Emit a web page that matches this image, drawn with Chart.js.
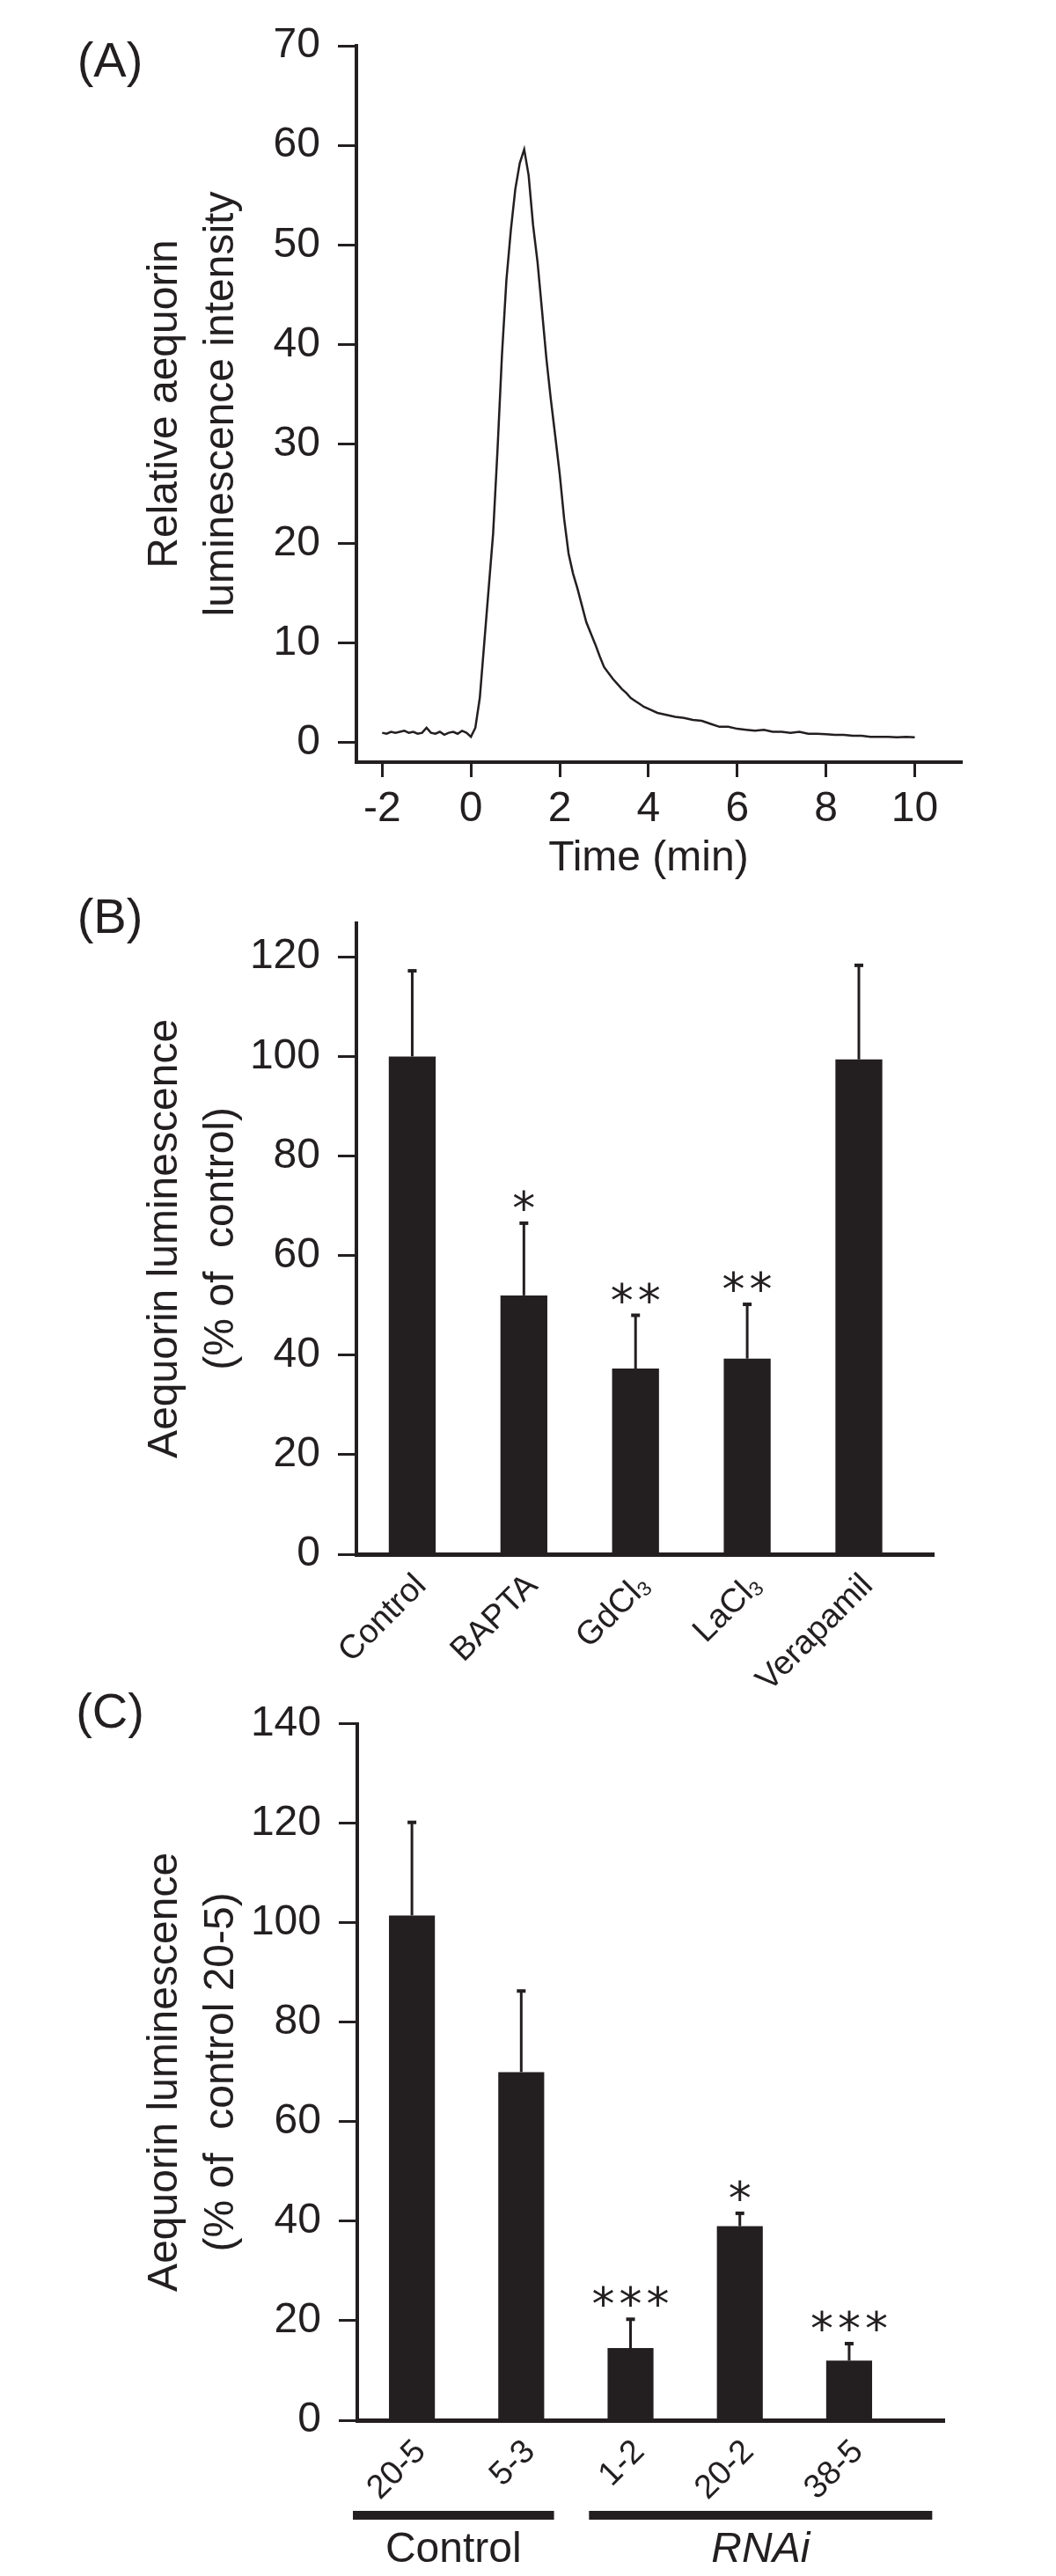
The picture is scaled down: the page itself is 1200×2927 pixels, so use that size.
<!DOCTYPE html>
<html>
<head>
<meta charset="utf-8">
<script src="https://cdn.jsdelivr.net/npm/chart.js@4.4.1/dist/chart.umd.min.js"></script>
<style>
  html, body { margin: 0; padding: 0; background: #fff; }
  body { width: 1200px; height: 2927px; position: relative; overflow: hidden; }
  canvas { position: absolute; left: 0; }
</style>
</head>
<body>
<canvas id="chartA" width="1200" height="1000" style="top:0px"></canvas>
<canvas id="chartB" width="1200" height="960" style="top:1000px"></canvas>
<canvas id="chartC" width="1200" height="1017" style="top:1910px"></canvas>
<script>
const ink = '#231f20';
const fontFamily = '"Liberation Sans", Arial, Helvetica, sans-serif';

// (A) aequorin trace, time in min
const timeMin = [
  -2.0, -1.9, -1.8, -1.7, -1.6, -1.5, -1.4, -1.3, -1.2, -1.1,
  -1.0, -0.9, -0.8, -0.7, -0.6, -0.5, -0.4, -0.3, -0.2, -0.1,
  0.0, 0.1, 0.2, 0.3, 0.4, 0.5, 0.6, 0.7, 0.8, 0.9,
  1.0, 1.1, 1.2, 1.3, 1.4, 1.5, 1.6, 1.7, 1.8, 1.9,
  2.0, 2.1, 2.2, 2.3, 2.4, 2.5, 2.6, 2.7, 2.8, 2.9,
  3.0, 3.1, 3.2, 3.3, 3.4, 3.5, 3.6, 3.7, 3.8, 3.9,
  4.0, 4.2, 4.4, 4.6, 4.8, 5.0, 5.2, 5.4, 5.6, 5.8,
  6.0, 6.2, 6.4, 6.6, 6.8, 7.0, 7.2, 7.4, 7.6, 7.8,
  8.0, 8.2, 8.4, 8.6, 8.8, 9.0, 9.2, 9.4, 9.6, 9.8, 10.0
];
const intensity = [
  1.0, 0.9, 1.1, 1.0, 1.1, 1.2, 1.0, 1.1, 0.9, 1.0,
  1.5, 1.0, 0.9, 1.1, 0.8, 1.0, 1.1, 0.9, 1.2, 1.0,
  0.6, 1.5, 4.5, 10.0, 15.5, 21.0, 29.5, 39.0, 46.5, 51.5,
  55.6, 58.2, 59.6, 57.0, 52.0, 48.3, 43.5, 38.6, 34.5, 30.8,
  27.0, 22.5, 19.0, 17.0, 15.5, 13.8, 12.1, 11.0, 9.9, 8.7,
  7.6, 7.0, 6.4, 5.9, 5.4, 5.0, 4.5, 4.2, 3.9, 3.6,
  3.4, 3.0, 2.8, 2.6, 2.5, 2.3, 2.2, 1.9, 1.6, 1.6,
  1.4, 1.3, 1.2, 1.3, 1.1, 1.1, 1.0, 1.1, 0.9, 0.9,
  0.85, 0.8, 0.8, 0.7, 0.7, 0.6, 0.6, 0.6, 0.55, 0.6, 0.55
];
const xTicksA = [-2, 0, 2, 4, 6, 8, 10];
const yTicksA = [0, 10, 20, 30, 40, 50, 60, 70];

// (B) inhibitors, % of control
const categoriesB = ['Control', 'BAPTA', 'GdCl₃', 'LaCl₃', 'Verapamil'];
const meanB = [100, 52, 37.3, 39.3, 99.4];
const errorB = [17.2, 14.5, 10.7, 10.9, 18.9];
const starsB = ['', '*', '**', '**', ''];
const yTicksB = [0, 20, 40, 60, 80, 100, 120];

// (C) RNAi lines, % of control 20-5
const categoriesC = ['20-5', '5-3', '1-2', '20-2', '38-5'];
const meanC = [101.5, 70, 14.5, 39, 12];
const errorC = [18.7, 16.3, 5.8, 2.6, 3.4];
const starsC = ['', '', '***', '*', '***'];
const yTicksC = [0, 20, 40, 60, 80, 100, 120, 140];
const groupsC = ['Control', 'RNAi'];

Chart.defaults.font.family = fontFamily;
Chart.defaults.font.size = 48;
Chart.defaults.color = ink;
Chart.defaults.animation = false;
Chart.defaults.plugins.legend.display = false;
Chart.defaults.plugins.tooltip.enabled = false;

// fixes the plot area inside a canvas (canvas coords)
function box(canvasW, canvasH, area) {
  return {
    padding: { left: 0, top: area.top, right: canvasW - area.right, bottom: 0 },
    fitY: s => { s.width = area.left; },
    fitX: s => { s.height = canvasH - area.bottom; }
  };
}

function yAxis(fit, min, max, tickList, title) {
  return {
    type: 'linear', min: min, max: max,
    afterFit: fit,
    afterBuildTicks: s => { s.ticks = tickList.map(v => ({ value: v })); },
    grid: { drawOnChartArea: false, drawTicks: true, tickLength: 21, tickWidth: 3, tickColor: ink },
    border: { display: true, width: 4, color: ink },
    ticks: { padding: 20, color: ink, font: { size: 48 } },
    title: { display: true, text: title, color: ink, font: { size: 48, lineHeight: 1.33 }, padding: { top: 156, bottom: 0 } }
  };
}

const textPlugin = {
  id: 'panelText',
  afterDraw(chart, args, opts) {
    const ctx = chart.ctx;
    ctx.save();
    ctx.fillStyle = ink;
    ctx.textAlign = 'center';
    ctx.textBaseline = 'middle';
    for (const t of opts.items || []) {
      ctx.font = (t.style || '') + ' ' + (t.size || 48) + 'px ' + fontFamily;
      const x = t.xValue !== undefined ? chart.scales.x.getPixelForValue(t.xValue) : t.x;
      ctx.fillText(t.text, x, t.y);
    }
    ctx.restore();
  }
};

const barExtras = {
  id: 'barExtras',
  afterDatasetsDraw(chart, args, opts) {
    const ctx = chart.ctx;
    const x = chart.scales.x, y = chart.scales.y;
    const base = chart.chartArea.bottom;
    ctx.save();
    ctx.strokeStyle = ink;
    ctx.fillStyle = ink;
    opts.means.forEach((m, i) => {
      const px = x.getPixelForValue(i);
      const top = y.getPixelForValue(m);
      const errTop = y.getPixelForValue(m + opts.errors[i]);
      ctx.lineWidth = 3;
      ctx.beginPath(); ctx.moveTo(px, top); ctx.lineTo(px, errTop); ctx.stroke();
      ctx.lineWidth = 4;
      ctx.beginPath(); ctx.moveTo(px - 5, errTop); ctx.lineTo(px + 5, errTop); ctx.stroke();

      // significance stars
      const n = opts.stars[i].length;
      if (n) {
        ctx.font = '52px "DejaVu Sans", sans-serif';
        ctx.textAlign = 'center';
        ctx.textBaseline = 'alphabetic';
        const mt = ctx.measureText('*');
        const shift = (mt.actualBoundingBoxAscent - mt.actualBoundingBoxDescent) / 2;
        for (let k = 0; k < n; k++) {
          ctx.fillText('*', px + (k - (n - 1) / 2) * 31, errTop - 26 + shift);
        }
      }

      // rotated category label, with a subscript digit if there is one
      let label = opts.labels[i], sub = '';
      if (label.endsWith('₃')) { label = label.slice(0, -1); sub = '3'; }
      ctx.save();
      ctx.translate(px + 10, base + 30);
      ctx.rotate(-Math.PI / 4);
      ctx.textAlign = 'left';
      ctx.textBaseline = 'middle';
      ctx.font = '38px ' + fontFamily;
      const w1 = ctx.measureText(label).width;
      ctx.font = '23px ' + fontFamily;
      const w2 = sub ? ctx.measureText(sub).width : 0;
      ctx.font = '38px ' + fontFamily;
      ctx.fillText(label, -(w1 + w2), 0);
      if (sub) {
        ctx.font = '23px ' + fontFamily;
        ctx.fillText(sub, -w2, 8);
      }
      ctx.restore();
    });

    // group bars under the labels
    for (const g of opts.groups || []) {
      const x1 = x.getPixelForValue(g.from), x2 = x.getPixelForValue(g.to);
      ctx.fillRect(x1, base + 103, x2 - x1, 10);
      ctx.font = (g.italic ? 'italic ' : '') + '48px ' + fontFamily;
      ctx.textAlign = 'center';
      ctx.textBaseline = 'alphabetic';
      ctx.fillText(g.text, (x1 + x2) / 2, base + 161);
    }
    ctx.restore();
  }
};

// ---------- (A) ----------
const boxA = box(1200, 1000, { left: 405, top: 52, right: 1093, bottom: 866 });
new Chart(document.getElementById('chartA'), {
  type: 'line',
  data: {
    datasets: [{
      data: timeMin.map((t, i) => ({ x: t, y: intensity[i] })),
      borderColor: ink,
      borderWidth: 2.5,
      pointRadius: 0,
      tension: 0
    }]
  },
  options: {
    responsive: false,
    layout: { padding: boxA.padding },
    scales: {
      x: {
        type: 'linear', min: -2.58, max: 11.06,
        afterFit: boxA.fitX,
        afterBuildTicks: s => { s.ticks = xTicksA.map(v => ({ value: v })); },
        grid: { drawOnChartArea: false, drawTicks: true, tickLength: 17, tickWidth: 3, tickColor: ink },
        border: { display: true, width: 4, color: ink },
        ticks: { padding: 8, color: ink, font: { size: 48 }, maxRotation: 0 }
      },
      y: yAxis(boxA.fitY, -1.95, 70, yTicksA, ['Relative aequorin', 'luminescence intensity'])
    },
    plugins: {
      panelText: { items: [
        { text: '(A)', x: 125, y: 72, size: 56 },
        { text: 'Time (min)', xValue: 4, y: 976, size: 48 }
      ] }
    }
  },
  plugins: [textPlugin]
});

// ---------- (B) ----------
const boxB = box(1200, 960, { left: 405, top: 17, right: 1061, bottom: 766 });
new Chart(document.getElementById('chartB'), {
  type: 'bar',
  data: {
    datasets: [{
      data: meanB.map((v, i) => ({ x: i, y: v })),
      backgroundColor: ink,
      categoryPercentage: 1,
      barPercentage: 0.42
    }]
  },
  options: {
    responsive: false,
    layout: { padding: boxB.padding },
    scales: {
      x: {
        type: 'linear', min: -0.5, max: 4.67, offset: false,
        afterFit: boxB.fitX,
        grid: { display: true, drawOnChartArea: false, drawTicks: false },
        border: { display: true, width: 5, color: ink },
        ticks: { display: false }
      },
      y: yAxis(boxB.fitY, 0, 126.8, yTicksB, ['Aequorin luminescence', '(% of  control)'])
    },
    plugins: {
      barExtras: { means: meanB, errors: errorB, stars: starsB, labels: categoriesB },
      panelText: { items: [{ text: '(B)', x: 125, y: 45, size: 56 }] }
    }
  },
  plugins: [barExtras, textPlugin]
});

// ---------- (C) ----------
const boxC = box(1200, 1017, { left: 406, top: 38, right: 1073, bottom: 840 });
new Chart(document.getElementById('chartC'), {
  type: 'bar',
  data: {
    datasets: [{
      data: meanC.map((v, i) => ({ x: i, y: v })),
      backgroundColor: ink,
      categoryPercentage: 1,
      barPercentage: 0.42
    }]
  },
  options: {
    responsive: false,
    layout: { padding: boxC.padding },
    scales: {
      x: {
        type: 'linear', min: -0.5, max: 4.87, offset: false,
        afterFit: boxC.fitX,
        grid: { display: true, drawOnChartArea: false, drawTicks: false },
        border: { display: true, width: 5, color: ink },
        ticks: { display: false }
      },
      y: yAxis(boxC.fitY, 0, 140, yTicksC, ['Aequorin luminescence', '(% of  control 20-5)'])
    },
    plugins: {
      barExtras: {
        means: meanC, errors: errorC, stars: starsC, labels: categoriesC,
        groups: [
          { text: groupsC[0], italic: false, from: -0.54, to: 1.30 },
          { text: groupsC[1], italic: true, from: 1.62, to: 4.76 }
        ]
      },
      panelText: { items: [{ text: '(C)', x: 125, y: 38, size: 56 }] }
    }
  },
  plugins: [barExtras, textPlugin]
});
</script>
</body>
</html>
